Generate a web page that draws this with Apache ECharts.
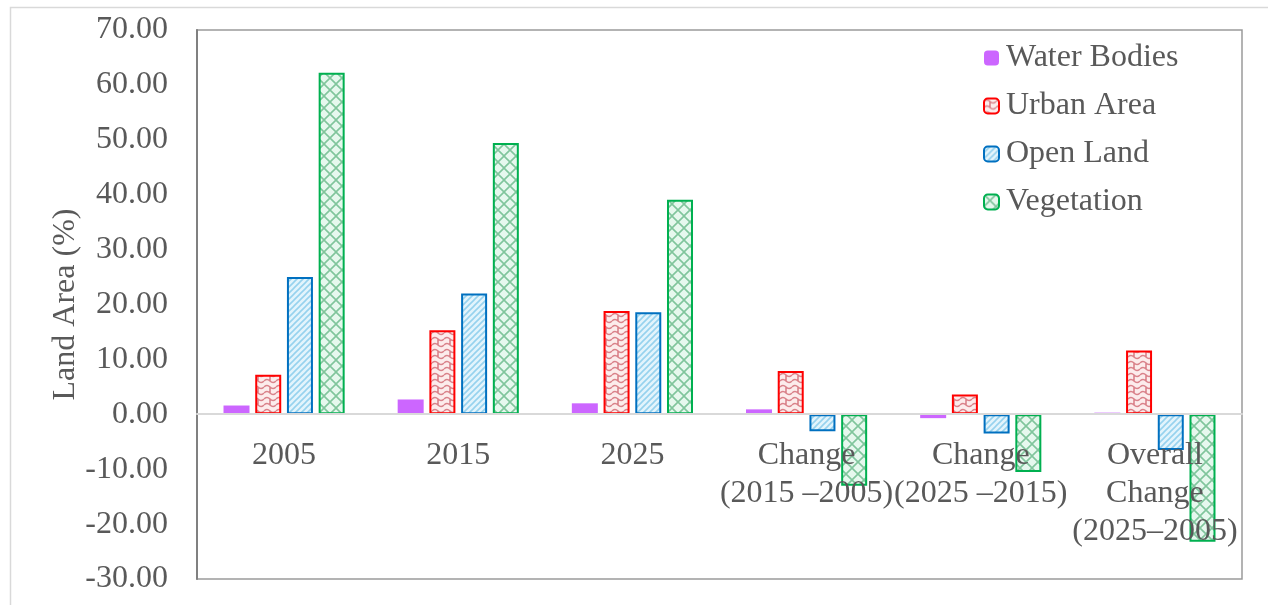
<!DOCTYPE html>
<html>
<head>
<meta charset="utf-8">
<title>Land Area (%)</title>
<script src="https://cdn.jsdelivr.net/npm/echarts@6/dist/echarts.min.js"></script>
<style>
  html, body { margin: 0; padding: 0; background: #ffffff; }
  #chart { width: 1268px; height: 605px; }
</style>
</head>
<body>
<div id="chart"></div>
<script>
// Land cover shares per year and the changes between years
const categories = ['2005', '2015', '2025', 'Change\n(2015 –2005)', 'Change\n(2025 –2015)', 'Overall\nChange\n(2025–2005)'];
const seriesNames = ['Water Bodies', 'Urban Area', 'Open Land', 'Vegetation'];
const waterBodies = [1.6, 2.7, 2.0, 0.9, -0.7, 0.3];
const urbanArea = [7.2, 15.3, 18.8, 7.9, 3.6, 11.6];
const openLand = [25.0, 22.0, 18.6, -3.1, -3.5, -6.5];
const vegetation = [62.2, 49.4, 39.1, -13.0, -10.5, -23.2];
const yTicks = { min: -30, max: 70, interval: 10 };

const FONT = "'Liberation Serif', 'Times New Roman', serif";
const TEXT = '#595959';
const FONT_SIZE = 32;

const GRID = { left: 197, top: 30, right: 26, bottom: 26 };
const CHART_H = 605;
// the category axis sits on the zero value line
const plotH = CHART_H - GRID.top - GRID.bottom;
const zeroOffset = -Math.round(plotH * (0 - yTicks.min) / (yTicks.max - yTicks.min));

// Small repeating tiles used as bar fills
function tile(size, draw) {
  const c = document.createElement('canvas');
  c.width = size; c.height = size;
  const ctx = c.getContext('2d');
  draw(ctx, size);
  return { image: c, repeat: 'repeat' };
}

const weaveFill = tile(12, (ctx, s) => {
  ctx.fillStyle = '#fcecec';
  ctx.fillRect(0, 0, s, s);
  ctx.strokeStyle = 'rgba(205, 95, 105, 0.75)';
  ctx.lineWidth = 1.6;
  ctx.beginPath();
  ctx.moveTo(0, 3); ctx.quadraticCurveTo(3, 0, 6, 3); ctx.quadraticCurveTo(9, 6, 12, 3);
  ctx.moveTo(0, 9); ctx.quadraticCurveTo(3, 6, 6, 9); ctx.quadraticCurveTo(9, 12, 12, 9);
  ctx.moveTo(6, 3); ctx.lineTo(6, 9);
  ctx.stroke();
});

const stripeFill = tile(6, (ctx, s) => {
  ctx.fillStyle = '#e3f4fc';
  ctx.fillRect(0, 0, s, s);
  ctx.strokeStyle = '#96d2ee';
  ctx.lineWidth = 1.6;
  ctx.beginPath();
  ctx.moveTo(0, s); ctx.lineTo(s, 0);
  ctx.moveTo(-1, 1); ctx.lineTo(1, -1);
  ctx.moveTo(s - 1, s + 1); ctx.lineTo(s + 1, s - 1);
  ctx.stroke();
});

const latticeFill = tile(12, (ctx, s) => {
  ctx.fillStyle = '#e6f8ee';
  ctx.fillRect(0, 0, s, s);
  ctx.strokeStyle = '#80c59c';
  ctx.lineWidth = 1.6;
  ctx.beginPath();
  ctx.moveTo(0, 0); ctx.lineTo(s, s);
  ctx.moveTo(s, 0); ctx.lineTo(0, s);
  ctx.stroke();
});

function barSeries(name, data, fill, border) {
  return {
    name: name,
    type: 'bar',
    data: data,
    barWidth: 26,
    barGap: '22%',
    itemStyle: border
      ? { color: fill, borderColor: border, borderWidth: 2 }
      : { color: fill, borderWidth: 0 },
    emphasis: { disabled: true }
  };
}

const chart = echarts.init(document.getElementById('chart'), null, { renderer: 'canvas' });

chart.setOption({
  animation: false,
  backgroundColor: '#ffffff',
  textStyle: { fontFamily: FONT, color: TEXT },
  graphic: [{
    type: 'rect',
    left: 8, top: 5,
    shape: { width: 1290, height: 640 },
    style: { fill: 'none', stroke: '#d9d9d9', lineWidth: 1.5 },
    silent: true,
    z: -10
  }],
  grid: {
    left: GRID.left, top: GRID.top, right: GRID.right, bottom: GRID.bottom,
    show: true,
    borderColor: '#9a9a9a',
    borderWidth: 1.5,
    containLabel: false,
    outerBoundsMode: 'none'
  },
  legend: {
    orient: 'vertical',
    left: 983,
    top: 42,
    padding: 0,
    itemWidth: 15,
    itemHeight: 15,
    itemGap: 16,
    data: seriesNames,
    textStyle: { fontFamily: FONT, fontSize: FONT_SIZE, color: TEXT, lineHeight: 32, padding: [0, 0, 0, 2] }
  },
  xAxis: {
    type: 'category',
    data: categories,
    position: 'bottom',
    offset: zeroOffset,
    z: 10,
    axisLine: { onZero: false, lineStyle: { color: '#d9d9d9', width: 2 } },
    axisTick: { show: false },
    axisLabel: {
      interval: 0,
      margin: 23,
      fontFamily: FONT,
      fontSize: FONT_SIZE,
      lineHeight: 38,
      color: TEXT,
      align: 'center'
    },
    splitLine: { show: false }
  },
  yAxis: {
    type: 'value',
    min: yTicks.min,
    max: yTicks.max,
    interval: yTicks.interval,
    name: 'Land Area (%)',
    nameLocation: 'middle',
    nameGap: 115,
    nameMoveOverlap: false,
    nameRotate: 90,
    nameTextStyle: { fontFamily: FONT, fontSize: FONT_SIZE, color: TEXT },
    axisLine: { show: true, onZero: false, lineStyle: { color: '#808080', width: 2 } },
    axisTick: { show: false },
    splitLine: { show: false },
    axisLabel: {
      margin: 29,
      fontFamily: FONT,
      fontSize: FONT_SIZE,
      color: TEXT,
      padding: [3, 0, 0, 0],
      formatter: v => v.toFixed(2)
    }
  },
  series: [
    barSeries(seriesNames[0], waterBodies, '#cc66ff', null),
    barSeries(seriesNames[1], urbanArea, weaveFill, '#ff0000'),
    barSeries(seriesNames[2], openLand, stripeFill, '#0070c0'),
    barSeries(seriesNames[3], vegetation, latticeFill, '#00b050')
  ]
});
</script>
</body>
</html>
